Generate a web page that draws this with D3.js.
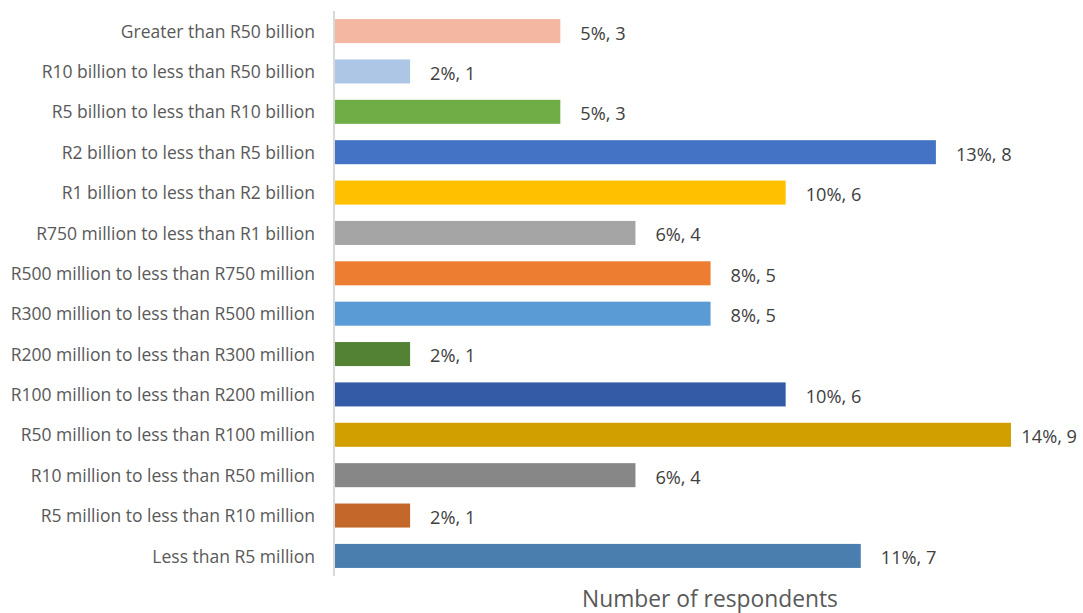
<!DOCTYPE html>
<html>
<head>
<meta charset="utf-8">
<script src="https://cdn.jsdelivr.net/npm/d3@7"></script>
<style>
  html, body { margin: 0; padding: 0; background: #fff; }
  svg { display: block; }
</style>
</head>
<body>
<svg id="chart" width="1083" height="613"></svg>
<script>
// Turnover bands, top to bottom
const categories = [
  "Greater than R50 billion",
  "R10 billion to less than R50 billion",
  "R5 billion to less than R10 billion",
  "R2 billion to less than R5 billion",
  "R1 billion to less than R2 billion",
  "R750 million to less than R1 billion",
  "R500 million to less than R750 million",
  "R300 million to less than R500 million",
  "R200 million to less than R300 million",
  "R100 million to less than R200 million",
  "R50 million to less than R100 million",
  "R10 million to less than R50 million",
  "R5 million to less than R10 million",
  "Less than R5 million"
];
const respondents = [3, 1, 3, 8, 6, 4, 5, 5, 1, 6, 9, 4, 1, 7];
const percentages = ["5%", "2%", "5%", "13%", "10%", "6%", "8%", "8%", "2%", "10%", "14%", "6%", "2%", "11%"];
const barColors = [
  "#F4B8A2", "#ADC6E5", "#70AD47", "#4472C4", "#FFC000", "#A5A5A5", "#ED7D31",
  "#5B9BD5", "#548235", "#345CA6", "#D19F00", "#878787", "#C4672A", "#4A7EAF"
];
const axisTitle = "Number of respondents";

const rows = categories.map((c, i) => ({
  cat: c, n: respondents[i], pct: percentages[i], color: barColors[i]
}));

const width = 1083;
const svg = d3.select("#chart");
const font = "'Open Sans', 'DejaVu Sans', sans-serif";

const x = d3.scaleLinear().domain([0, 9]).range([335, 1011]);
const y = d3.scaleBand().domain(categories).range([11, 576]).paddingInner(0.405).paddingOuter(0.2);

// Bars
svg.append("g").selectAll("rect")
  .data(rows)
  .join("rect")
  .attr("x", x(0))
  .attr("y", d => y(d.cat))
  .attr("width", d => x(d.n) - x(0))
  .attr("height", y.bandwidth())
  .attr("fill", d => d.color);

// Category axis (left)
const yAxis = svg.append("g")
  .attr("transform", `translate(${x(0) - 1},0)`)
  .call(d3.axisLeft(y).tickSize(0).tickPadding(19));
yAxis.select(".domain")
  .attr("d", `M0,11V576`)
  .attr("stroke", "#D9D9D9")
  .attr("stroke-width", 2);
yAxis.selectAll("text")
  .attr("fill", "#595959")
  .attr("dy", "0.38em")
  .style("font-family", font)
  .style("font-size", "17.5px");

// Value labels: placed after the bar end, kept inside the right edge
svg.append("g").selectAll("text")
  .data(rows)
  .join("text")
  .attr("y", d => y(d.cat) + y.bandwidth() / 2 + 1.5)
  .attr("dy", "0.38em")
  .attr("fill", "#404040")
  .style("font-family", font)
  .style("font-size", "18.2px")
  .text(d => `${d.pct}, ${d.n}`)
  .attr("x", function(d) {
    const w = this.getComputedTextLength();
    return Math.min(x(d.n) + 20, width - 6 - w);
  });

// Axis title
svg.append("text")
  .attr("x", 710)
  .attr("y", 607)
  .attr("text-anchor", "middle")
  .attr("fill", "#595959")
  .style("font-family", font)
  .style("font-size", "22.8px")
  .text(axisTitle);
</script>
</body>
</html>
